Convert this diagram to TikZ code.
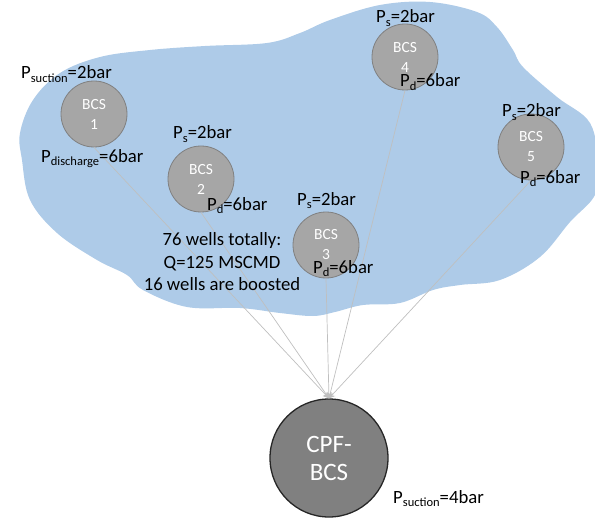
\documentclass[tikz,border=0pt]{standalone}
\usepackage{fontspec}
\setmainfont{Carlito}
\usetikzlibrary{arrows.meta}
\definecolor{blobblue}{RGB}{174,203,232}
\definecolor{bcsfill}{RGB}{166,166,166}
\definecolor{bcsedge}{RGB}{128,128,128}
\definecolor{cpffill}{RGB}{128,128,128}
\definecolor{cpfedge}{RGB}{38,38,38}
\definecolor{linkgray}{RGB}{191,191,191}
\newcommand\plabel[2]{P\raisebox{-0.35ex}{\fontsize{12.5}{12.5}\selectfont #1}=#2}
\begin{document}
\begin{tikzpicture}[x=1pt,y=-1pt,
  bcs/.style={circle,draw=bcsedge,fill=bcsfill,line width=0.8pt,minimum size=66pt,inner sep=0pt,text=white,font=\fontsize{15.5}{20}\selectfont,align=center},
  cpf/.style={circle,draw=cpfedge,fill=cpffill,line width=1.3pt,minimum size=118pt,inner sep=0pt,text=white,font=\fontsize{25}{28}\selectfont,align=center},
  lab/.style={anchor=base west,inner sep=0pt,font=\fontsize{18.7}{22}\selectfont},
  link/.style={draw=linkgray,line width=0.7pt,-{Stealth[length=6pt,width=6pt]}}]
\useasboundingbox (0,0) rectangle (595,519);
% cloud region
\fill[blobblue] plot[smooth cycle,tension=0.6] coordinates {
  (20,133) (33,100) (60,73) (100,57) (150,50) (205,46) (267,43) (300,33)
  (330,20) (380,5) (430,2) (477,12) (497,27) (513,50) (523,67) (557,97)
  (590,123) (598,165) (595,195) (570,222) (540,257) (500,280) (460,285)
  (433,290) (400,303) (363,305) (335,312) (313,316) (280,313) (240,308)
  (187,307) (143,290) (127,275) (97,260) (57,233) (30,200) (22,160)};
% stations
\node[bcs] (b1) at (94,114) {BCS\\1};
\node[bcs] (b2) at (201,179) {BCS\\2};
\node[bcs] (b3) at (326,245) {BCS\\3};
\node[bcs] (b4) at (405,57) {BCS\\4};
\node[bcs] (b5) at (531,147) {BCS\\5};
\node[cpf] (cpf) at (329,458) {CPF-\\BCS};
% connectors
\foreach \s in {b1,b2,b3,b4,b5} \draw[link] (\s.south) -- (cpf.north);
% labels
\node[lab] (l1s) at (21,79) {\plabel{suction}{2bar}};
\node[lab] (l1d) at (41,162) {\plabel{discharge}{6bar}};
\node[lab] (l2s) at (173,139) {\plabel{s}{2bar}};
\node[lab] (l2d) at (207,210) {\plabel{d}{6bar}};
\node[lab] (l3s) at (297,205) {\plabel{s}{2bar}};
\node[lab] (l3d) at (313,273) {\plabel{d}{6bar}};
\node[lab] (l4s) at (376,23) {\plabel{s}{2bar}};
\node[lab] (l4d) at (400,87) {\plabel{d}{6bar}};
\node[lab] (l5s) at (502,117) {\plabel{s}{2bar}};
\node[lab] (l5d) at (520,183) {\plabel{d}{6bar}};
\node[lab] (lc) at (393,503) {\plabel{suction}{4bar}};
\node[inner sep=0pt,align=center,font=\fontsize{18.7}{22.5}\selectfont] (info) at (222,262)
  {76 wells totally:\\Q=125 MSCMD\\16 wells are boosted};
\end{tikzpicture}
\end{document}
